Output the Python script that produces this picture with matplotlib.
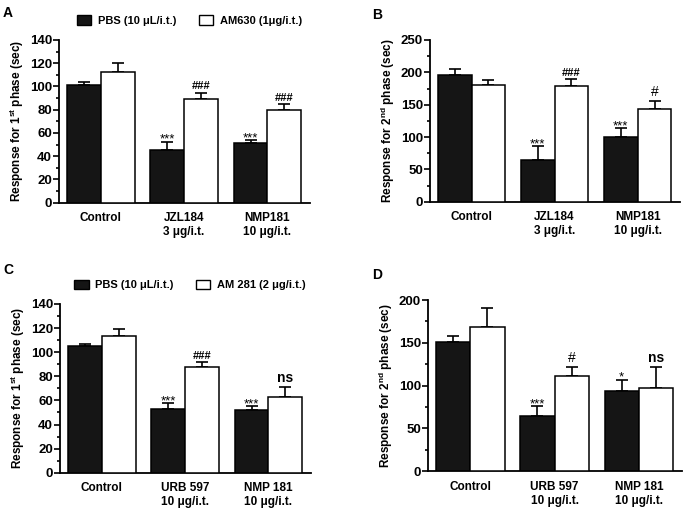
import matplotlib
matplotlib.use("Agg")
import matplotlib.pyplot as plt
import numpy as np
from matplotlib.ticker import MultipleLocator
from matplotlib.patches import Patch

plt.rcParams["font.family"] = ["Liberation Sans", "DejaVu Sans"]
plt.rcParams["font.weight"] = "bold"
plt.rcParams["axes.labelweight"] = "bold"
plt.rcParams["mathtext.fontset"] = "custom"
plt.rcParams["mathtext.rm"] = "Liberation Sans:bold"
plt.rcParams["mathtext.it"] = "Liberation Sans:bold"
plt.rcParams["mathtext.bf"] = "Liberation Sans:bold"

# panel A / B groups
groups_ab = ["Control", "JZL184\n3 \u03bcg/i.t.", "NMP181\n10 \u03bcg/i.t."]
# panel C / D groups
groups_cd = ["Control", "URB 597\n10 \u03bcg/i.t.", "NMP 181\n10 \u03bcg/i.t."]

# A: 1st phase, PBS vs AM630
a_pbs = [101, 45, 51]
a_pbs_err = [3, 7.5, 3]
a_am = [112.5, 89, 80]
a_am_err = [7.5, 5.5, 5]
a_pbs_sig = ["", "***", "***"]
a_am_sig = ["", "###", "###"]

# B: 2nd phase, PBS vs AM630
b_pbs = [196, 65, 100]
b_pbs_err = [9, 21, 14]
b_am = [180, 179, 144]
b_am_err = [8, 10, 12]
b_pbs_sig = ["", "***", "***"]
b_am_sig = ["", "###", "#"]

# C: 1st phase, PBS vs AM 281
c_pbs = [105, 53, 52]
c_pbs_err = [2, 5, 3]
c_am = [113.5, 88, 63]
c_am_err = [5.5, 3.5, 8.5]
c_pbs_sig = ["", "***", "***"]
c_am_sig = ["", "###", "ns"]

# D: 2nd phase, PBS vs AM 281
d_pbs = [151, 64, 93]
d_pbs_err = [7, 12, 14]
d_am = [168, 111, 97]
d_am_err = [23, 11, 25]
d_pbs_sig = ["", "***", "*"]
d_am_sig = ["", "#", "ns"]

W, H = 685, 511
fig = plt.figure(figsize=(W / 100, H / 100), dpi=100)


def px_axes(left, right, top, bottom):
    return fig.add_axes([left / W, (H - bottom) / H, (right - left) / W, (bottom - top) / H])


def sig_style(s):
    # size, weight, offset for the marks above the bars
    if s == "ns":
        return 10, "bold", 0
    if s == "#":
        return 10, "normal", 0
    if s.startswith("#"):
        return 8, "bold", 0
    return 9.5, "normal", -4


def panel(ax, groups, pbs, pbs_err, am, am_err, pbs_sig, am_sig, ymax, major, ylabel):
    x = np.arange(len(groups))
    w = 0.407
    ax.bar(x - w / 2, pbs, w, color="#151515", edgecolor="black", linewidth=1.1, zorder=3)
    ax.bar(x + w / 2, am, w, color="white", edgecolor="black", linewidth=1.1, zorder=3)
    ax.errorbar(x - w / 2, pbs, yerr=[np.zeros(3), pbs_err], fmt="none", ecolor="black",
                elinewidth=1.2, capsize=4.5, capthick=1.2, zorder=2)
    ax.errorbar(x + w / 2, am, yerr=[np.zeros(3), am_err], fmt="none", ecolor="black",
                elinewidth=1.2, capsize=4.5, capthick=1.2, zorder=2)
    for i in range(len(groups)):
        for s, xs, top in [(pbs_sig[i], x[i] - w / 2, pbs[i] + pbs_err[i]),
                           (am_sig[i], x[i] + w / 2, am[i] + am_err[i])]:
            if not s:
                continue
            size, weight, off = sig_style(s)
            ax.annotate(s, (xs, top), xytext=(0, 1 + off), textcoords="offset points",
                        ha="center", va="bottom", fontsize=size, fontweight=weight)
    ax.set_xlim(-0.5, 2.51)
    ax.set_ylim(0, ymax)
    ax.yaxis.set_major_locator(MultipleLocator(major))
    ax.yaxis.set_minor_locator(MultipleLocator(major / 2))
    ax.set_xticks(x)
    ax.set_xticklabels(groups, fontsize=8.5)
    ax.tick_params(axis="x", length=0, pad=7)
    ax.tick_params(axis="y", which="major", length=4, width=1.2, labelsize=9.5, pad=1)
    ax.tick_params(axis="y", which="minor", length=2.5, width=1.2)
    for side in ["top", "right"]:
        ax.spines[side].set_visible(False)
    for side in ["left", "bottom"]:
        ax.spines[side].set_linewidth(1.3)
    ax.set_ylabel(ylabel, fontsize=8.5, fontweight="bold", labelpad=3)


ax_a = px_axes(59, 310, 40, 202.7)
panel(ax_a, groups_ab, a_pbs, a_pbs_err, a_am, a_am_err, a_pbs_sig, a_am_sig,
      140, 20, "Response for 1$^{st}$ phase (sec)")
ax_b = px_axes(430, 680, 40, 201.7)
panel(ax_b, groups_ab, b_pbs, b_pbs_err, b_am, b_am_err, b_pbs_sig, b_am_sig,
      250, 50, "Response for 2$^{nd}$ phase (sec)")
ax_c = px_axes(60, 311, 304, 472.7)
panel(ax_c, groups_cd, c_pbs, c_pbs_err, c_am, c_am_err, c_pbs_sig, c_am_sig,
      140, 20, "Response for 1$^{st}$ phase (sec)")
ax_d = px_axes(428, 682, 300, 471)
panel(ax_d, groups_cd, d_pbs, d_pbs_err, d_am, d_am_err, d_pbs_sig, d_am_sig,
      200, 50, "Response for 2$^{nd}$ phase (sec)")

# legends
h_black = Patch(facecolor="#151515", edgecolor="black", linewidth=1.0)
h_white = Patch(facecolor="white", edgecolor="black", linewidth=1.0)
ax_a.legend([h_black, h_white], ["PBS (10 \u03bcL/i.t.)", "AM630 (1\u03bcg/i.t.)"],
            ncol=2, frameon=False, fontsize=8, loc="center", bbox_to_anchor=(0.52, 1.118),
            handlelength=1.3, handleheight=1.0, handletextpad=0.6, columnspacing=2.0,
            borderaxespad=0)
ax_c.legend([h_black, h_white], ["PBS (10 \u03bcL/i.t.)", "AM 281 (2 \u03bcg/i.t.)"],
            ncol=2, frameon=False, fontsize=8, loc="center", bbox_to_anchor=(0.518, 1.113),
            handlelength=1.3, handleheight=1.0, handletextpad=0.6, columnspacing=2.0,
            borderaxespad=0)

# panel letters
for letter, px, py in [("A", 3, 13), ("B", 372, 15), ("C", 3, 270), ("D", 372, 275)]:
    fig.text(px / W, 1 - py / H, letter, fontsize=10, fontweight="bold", va="center", ha="left")

fig.savefig("out.png", dpi=100)
